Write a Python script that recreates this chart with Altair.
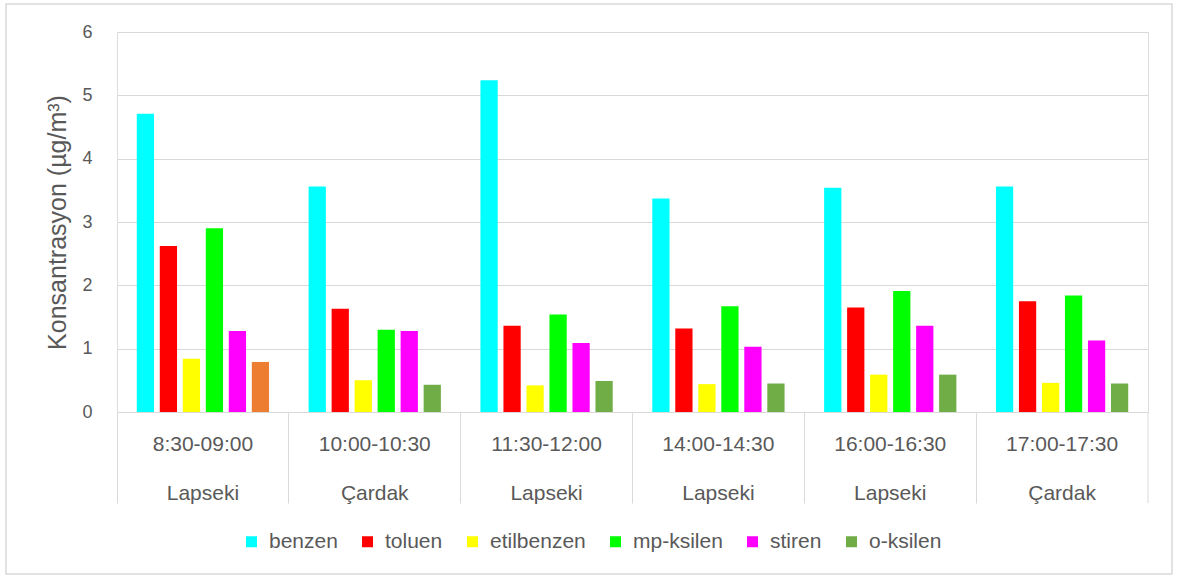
import altair as alt
import pandas as pd

times = ["8:30-09:00", "10:00-10:30", "11:30-12:00", "14:00-14:30", "16:00-16:30", "17:00-17:30"]
locations = ["Lapseki", "Çardak", "Lapseki", "Lapseki", "Lapseki", "Çardak"]
series = ["benzen", "toluen", "etilbenzen", "mp-ksilen", "stiren", "o-ksilen"]
colors = ["#00FFFF", "#FF0000", "#FFFF00", "#00FF00", "#FF00FF", "#70AD47"]

benzen = [4.71, 3.56, 5.24, 3.37, 3.54, 3.56]
toluen = [2.62, 1.63, 1.36, 1.32, 1.65, 1.75]
etilbenzen = [0.84, 0.50, 0.42, 0.44, 0.59, 0.46]
mp_ksilen = [2.90, 1.30, 1.54, 1.67, 1.91, 1.84]
stiren = [1.28, 1.28, 1.09, 1.03, 1.36, 1.13]
o_ksilen = [0.79, 0.43, 0.49, 0.45, 0.59, 0.45]

values = [benzen, toluen, etilbenzen, mp_ksilen, stiren, o_ksilen]

rows = []
for s, vals in zip(series, values):
    for t, loc, v in zip(times, locations, vals):
        rows.append({"group": t + "|" + loc, "time": t, "series": s, "value": v})
df = pd.DataFrame(rows)
groups = [t + "|" + l for t, l in zip(times, locations)]

FONT = "Liberation Sans"
TXT = "#595959"
GRID = "#D9D9D9"
W, H = 1031, 380

bars = alt.Chart(df).mark_bar().encode(
    x=alt.X("group:N", sort=groups,
            scale=alt.Scale(paddingInner=0, paddingOuter=0),
            axis=alt.Axis(title=None, labelExpr="split(datum.label, '|')",
                          labelAngle=0, labelFont=FONT, labelFontSize=21,
                          labelColor=TXT, labelLineHeight=49, labelBaseline="top",
                          labelPadding=-70, bandPosition=0, tickSize=91,
                          tickColor=GRID, domainColor=GRID, labelAlign="center")),
    xOffset=alt.XOffset("series:N", sort=series,
                        scale=alt.Scale(paddingInner=0.25, paddingOuter=0.86)),
    y=alt.Y("value:Q", scale=alt.Scale(domain=[0, 6]),
            axis=alt.Axis(title="Konsantrasyon (µg/m³)", values=[0, 1, 2, 3, 4, 5, 6],
                          ticks=False, domain=False, gridColor=GRID,
                          labelFont=FONT, labelFontSize=18, labelColor=TXT,
                          labelPadding=25, titleFont=FONT, titleFontSize=25,
                          titleFontWeight="normal", titleColor=TXT,
                          titleX=-60, titleY=H / 2, titleBaseline="middle",
                          titleAngle=270, titleAlign="center")),
    color=alt.condition(
        "datum.time == '8:30-09:00' && datum.series == 'o-ksilen'",
        alt.value("#ED7D31"),
        alt.Color("series:N", sort=series,
                  scale=alt.Scale(domain=series, range=colors),
                  legend=alt.Legend(title=None, orient="none", direction="horizontal",
                                    columns=6, legendX=124, legendY=499,
                                    symbolType="square", symbolSize=121,
                                    symbolStrokeWidth=0, labelFont=FONT,
                                    labelFontSize=21, labelColor=TXT,
                                    labelOffset=7, columnPadding=19)),
    ),
)

right_sep = alt.Chart(alt.Data(values=[{"a": 1}])).mark_rule(color=GRID).encode(
    x=alt.value(W), y=alt.value(H), y2=alt.value(H + 91)
)

border = alt.Chart(alt.Data(values=[{"a": 1}])).mark_rect(
    fill=None, stroke=GRID, strokeWidth=1.5
).encode(
    x=alt.value(-111), x2=alt.value(1055), y=alt.value(-28), y2=alt.value(542)
)

chart = alt.layer(bars, right_sep, border).properties(
    width=W, height=H,
    autosize=alt.AutoSizeParams(type="none"),
    padding={"left": 117, "top": 32, "right": 30, "bottom": 171},
).configure_view(stroke=None).configure(background="white")

chart.save("out.html", embed_options={"renderer": "svg", "actions": False})
